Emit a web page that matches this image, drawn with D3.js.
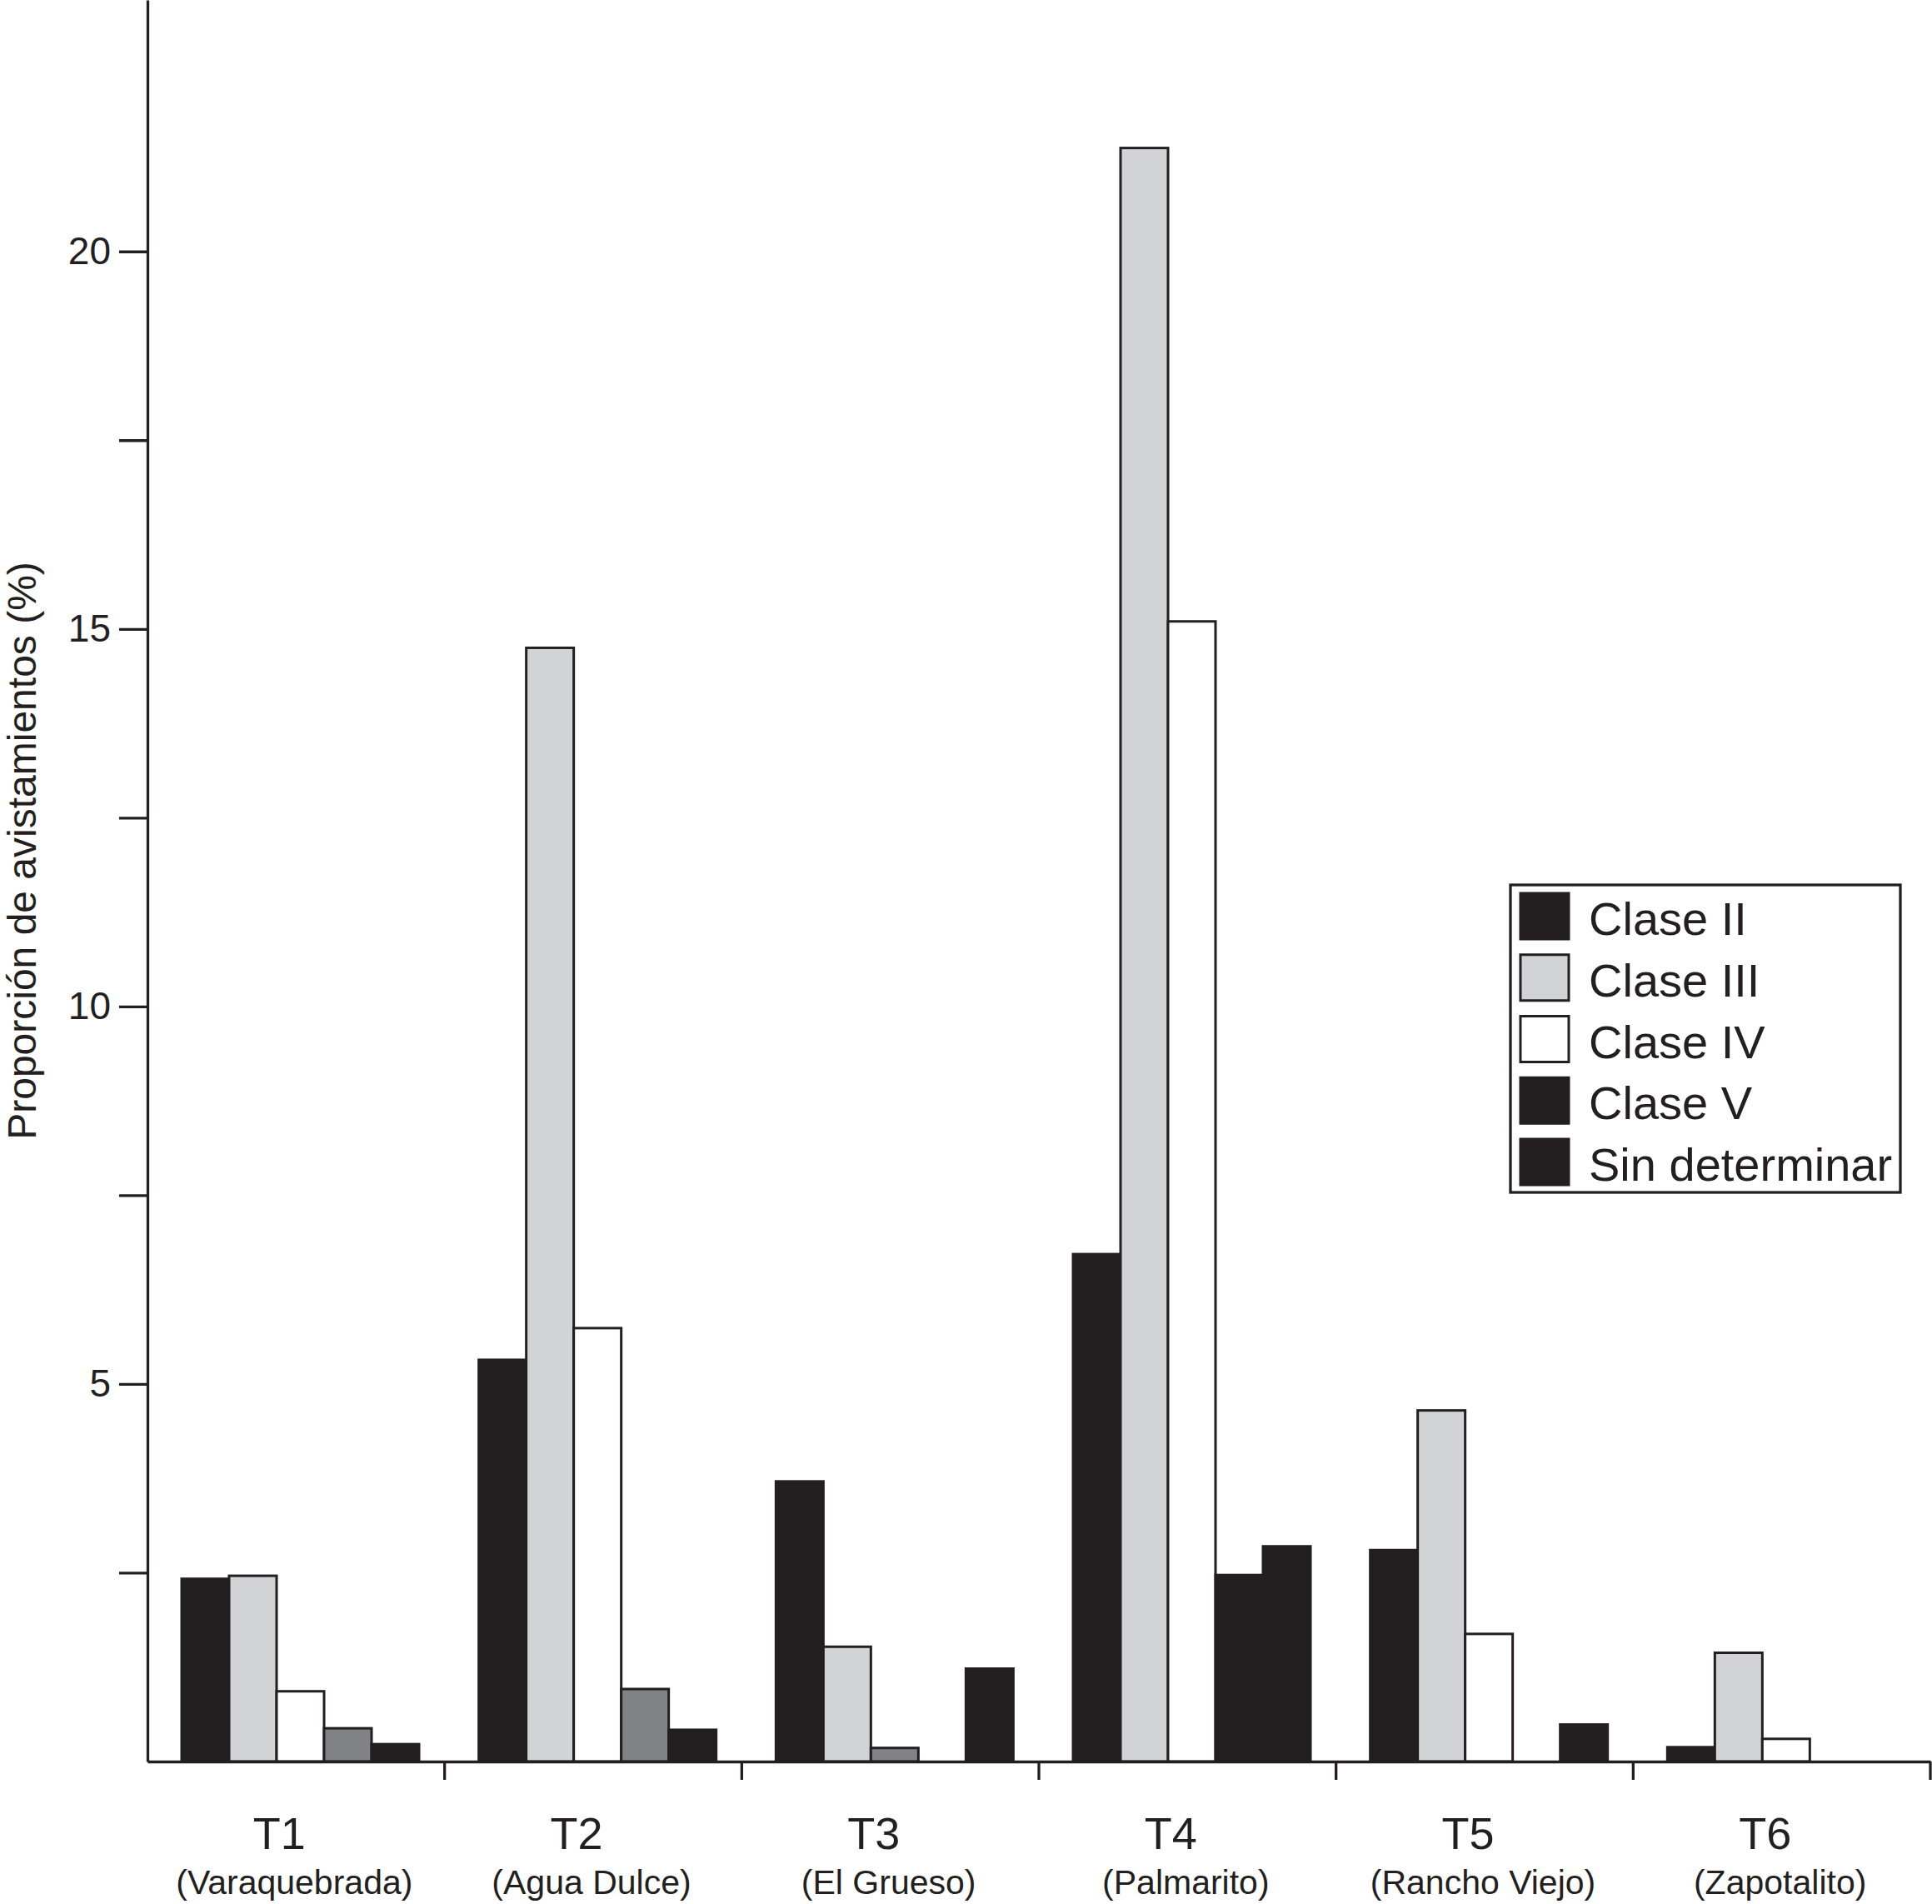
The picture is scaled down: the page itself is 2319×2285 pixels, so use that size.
<!DOCTYPE html>
<html>
<head>
<meta charset="utf-8">
<script src="https://cdn.jsdelivr.net/npm/d3@7"></script>
<style>
    body { margin: 0; background: #fff; }
    text { font-family: "Liberation Sans", Arial, Helvetica, sans-serif; fill: #231f20; }
</style>
</head>
<body>
<svg id="chart"></svg>
<script>
// transects and their site names
const categories = ["T1", "T2", "T3", "T4", "T5", "T6"];
const sites = ["(Varaquebrada)", "(Agua Dulce)", "(El Grueso)", "(Palmarito)", "(Rancho Viejo)", "(Zapotalito)"];

// proportion of sightings (%) per class
const series = ["Clase II", "Clase III", "Clase IV", "Clase V", "Sin determinar"];
const claseII = [2.42, 5.32, 3.71, 6.72, 2.80, 0.19];
const claseIII = [2.46, 14.75, 1.52, 21.37, 4.65, 1.44];
const claseIV = [0.93, 5.74, 0.18, 15.10, 1.69, 0.30];
const claseV = [0.44, 0.96, 0, 2.47, 0, 0];
const sinDeterminar = [0.23, 0.42, 1.23, 2.85, 0.49, 0];

const yTicks = [2.5, 5, 7.5, 10, 12.5, 15, 17.5, 20];

// styling
const ink = "#231f20";
const fills = {
    "Clase II": ink,
    "Clase III": "#d1d3d4",
    "Clase IV": "#ffffff",
    "Clase V": "#808285",
    "Sin determinar": ink
};
// the legend shows Clase V in black
const legendFills = Object.assign({}, fills, {"Clase V": ink});
// a couple of bars in the original are shaded differently from their series
const fillOverrides = {"T3|Clase IV": "#808285", "T4|Clase V": ink};

const width = 2319, height = 2285;
const svg = d3.select("#chart").attr("width", width).attr("height", height);

const values = [claseII, claseIII, claseIV, claseV, sinDeterminar];
const rows = [];
categories.forEach((c, i) => {
    series.forEach((s, j) => {
        rows.push({cat: c, key: s, value: values[j][i]});
    });
});

const x0 = d3.scaleBand().domain(categories).range([177, 2317]);
const x1 = d3.scaleBand().domain(series).range([41, 326]);
const y = d3.scaleLinear().domain([0, 23.33]).range([2114, 0]);

svg.append("g")
    .selectAll("rect")
    .data(rows.filter(d => d.value > 0))
    .enter().append("rect")
    .attr("x", d => x0(d.cat) + x1(d.key))
    .attr("y", d => y(d.value))
    .attr("width", x1.bandwidth())
    .attr("height", d => y(0) - y(d.value))
    .attr("fill", d => fillOverrides[d.cat + "|" + d.key] || fills[d.key])
    .attr("stroke", ink)
    .attr("stroke-width", 3);

// y axis
const yAxis = svg.append("g")
    .attr("transform", `translate(${x0.range()[0]},0)`)
    .call(d3.axisLeft(y)
        .tickValues(yTicks)
        .tickSize(34)
        .tickSizeOuter(0)
        .tickPadding(10)
        .tickFormat(d => d % 5 === 0 ? d : ""));
yAxis.selectAll("path, line").attr("stroke", ink).attr("stroke-width", 3.3);
yAxis.selectAll("text").style("font-size", "46px").attr("fill", ink);

svg.append("text")
    .attr("transform", `translate(43,1021) rotate(-90)`)
    .attr("text-anchor", "middle")
    .style("font-size", "48px")
    .text("Proporción de avistamientos (%)");

// x axis: baseline plus ticks at the band boundaries
const xAxis = svg.append("g")
    .attr("transform", `translate(0,${y(0)})`)
    .call(d3.axisBottom(x0).tickSize(0).tickSizeOuter(0).tickFormat(""));
xAxis.select(".domain").attr("stroke", ink).attr("stroke-width", 3.3);

svg.append("g")
    .selectAll("line")
    .data(categories)
    .enter().append("line")
    .attr("x1", d => x0(d) + x0.bandwidth())
    .attr("x2", d => x0(d) + x0.bandwidth())
    .attr("y1", y(0))
    .attr("y2", y(0) + 22)
    .attr("stroke", ink)
    .attr("stroke-width", 3.3);

svg.append("g")
    .selectAll("text")
    .data(categories)
    .enter().append("text")
    .attr("x", d => x0(d) + x0.bandwidth() / 2 - 20)
    .attr("y", 2219)
    .attr("text-anchor", "middle")
    .style("font-size", "54px")
    .text(d => d);

svg.append("g")
    .selectAll("text")
    .data(sites)
    .enter().append("text")
    .attr("x", (d, i) => x0(categories[i]) + x0.bandwidth() / 2 - 2)
    .attr("y", 2273)
    .attr("text-anchor", "middle")
    .style("font-size", "41px")
    .text(d => d);

// legend
const legend = svg.append("g").attr("transform", "translate(1813,1062)");
legend.append("rect")
    .attr("width", 468)
    .attr("height", 369)
    .attr("fill", "#fff")
    .attr("stroke", ink)
    .attr("stroke-width", 3.3);

const item = legend.selectAll(".item")
    .data(series)
    .enter().append("g")
    .attr("class", "item")
    .attr("transform", (d, i) => `translate(12,${10 + i * 73.75})`);

item.append("rect")
    .attr("width", 58)
    .attr("height", 55)
    .attr("fill", d => legendFills[d])
    .attr("stroke", ink)
    .attr("stroke-width", 3);

item.append("text")
    .attr("x", 82)
    .attr("y", 50)
    .style("font-size", "56px")
    .text(d => d);
</script>
</body>
</html>
